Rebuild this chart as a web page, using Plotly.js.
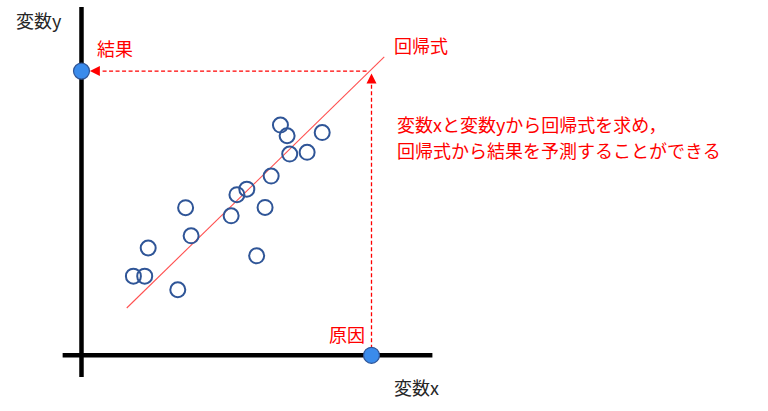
<!DOCTYPE html>
<html>
<head>
<meta charset="utf-8">
<script src="https://cdn.plot.ly/plotly-3.0.1.min.js"></script>
<style>html,body{margin:0;padding:0;background:#fff;}#chart{width:768px;height:411px;}</style>
</head>
<body>
<div id="chart"></div>
<script>
// ---- data (abstract units) ----
var sampleX = [6.86, 7.09, 8.30, 7.18, 7.78, 6.54, 5.70, 5.36, 3.59, 6.33, 5.16, 3.78, 2.30, 6.04, 1.79, 2.18, 3.32];
var sampleY = [7.94, 7.57, 7.68, 6.94, 7.00, 6.18, 5.73, 5.54, 5.09, 5.10, 4.81, 4.12, 3.70, 3.43, 2.73, 2.73, 2.26];
var regIntercept = 0.11;
var regSlope = 0.975;
var regXRange = [1.56, 10.44];
var causeX = 10.0;
var resultY = 9.80;
var axisXEnds = [-0.65, 12.10];
var axisYEnds = [-0.75, 12.01];
var labels = {
  xName: '変数x', yName: '変数y', result: '結果', cause: '原因', reg: '回帰式',
  note1: '変数xと変数yから回帰式を求め，', note2: '回帰式から結果を予測することができる'
};

// ---- styles ----
var RED = '#FF0000';
var FONT = '"Noto Sans CJK JP", "Noto Sans", sans-serif';
var gap = 0.29;      // arrow tip offset from target (units)
var headLen = 0.35;  // arrow head length (units)

var regY = regXRange.map(function (x) { return regIntercept + regSlope * x; });

var traces = [
  { x: regXRange, y: regY, mode: 'lines', line: { color: '#FF5050', width: 1.1 }, hoverinfo: 'skip' },
  // horizontal dashed (prediction to result)
  { x: [causeX - 0.17, gap + headLen], y: [resultY, resultY], mode: 'lines',
    line: { color: RED, width: 1.3, dash: '4px,2.5px' }, hoverinfo: 'skip' },
  // vertical dashed (cause up to line)
  { x: [causeX, causeX], y: [0, resultY - 0.08 - headLen], mode: 'lines',
    line: { color: RED, width: 1.3, dash: '4px,2.5px' }, hoverinfo: 'skip' },
  { x: sampleX, y: sampleY, mode: 'markers',
    marker: { symbol: 'circle-open', size: 15, color: '#2F5597', line: { width: 2, color: '#2F5597' } }, hoverinfo: 'skip' },
  { x: [gap], y: [resultY], mode: 'markers',
    marker: { symbol: 'arrow-left', size: 10, color: RED, line: { width: 0 } }, hoverinfo: 'skip' },
  { x: [causeX], y: [resultY - 0.08], mode: 'markers',
    marker: { symbol: 'arrow-up', size: 10, color: RED, line: { width: 0 } }, hoverinfo: 'skip' },
  { x: [0, causeX], y: [resultY, 0], mode: 'markers',
    marker: { symbol: 'circle', size: 16, color: '#3A8BEB', line: { width: 1.2, color: '#2F5597' } }, hoverinfo: 'skip' }
];

function ann(text, x, y, color) {
  return { text: text, x: x, y: y, xref: 'x', yref: 'y', xanchor: 'left', yanchor: 'middle',
    showarrow: false, font: { family: FONT, size: 18, color: color } };
}

var layout = {
  width: 768, height: 411,
  margin: { l: 0, r: 0, t: 0, b: 0, pad: 0 },
  paper_bgcolor: '#ffffff', plot_bgcolor: '#ffffff',
  showlegend: false, hovermode: false,
  xaxis: { range: [-2.810, 23.672], visible: false, fixedrange: true },
  yaxis: { range: [-1.921, 12.252], visible: false, fixedrange: true },
  shapes: [
    { type: 'line', xref: 'x', yref: 'y', x0: axisXEnds[0], x1: axisXEnds[1], y0: 0, y1: 0,
      line: { color: '#000000', width: 4.5 }, layer: 'below' },
    { type: 'line', xref: 'x', yref: 'y', x0: 0, x1: 0, y0: axisYEnds[0], y1: axisYEnds[1],
      line: { color: '#000000', width: 4.5 }, layer: 'below' }
  ],
  annotations: [
    ann(labels.yName, -2.34, 11.56, '#262626'),
    ann(labels.result, 0.48, 10.60, RED),
    ann(labels.reg, 10.70, 10.70, RED),
    ann(labels.note1, 10.82, 7.98, RED),
    ann(labels.note2, 10.82, 7.08, RED),
    ann(labels.cause, 8.46, 0.72, RED),
    ann(labels.xName, 10.69, -1.08, '#262626')
  ]
};

Plotly.newPlot('chart', traces, layout, { staticPlot: true, displayModeBar: false });
</script>
</body>
</html>
